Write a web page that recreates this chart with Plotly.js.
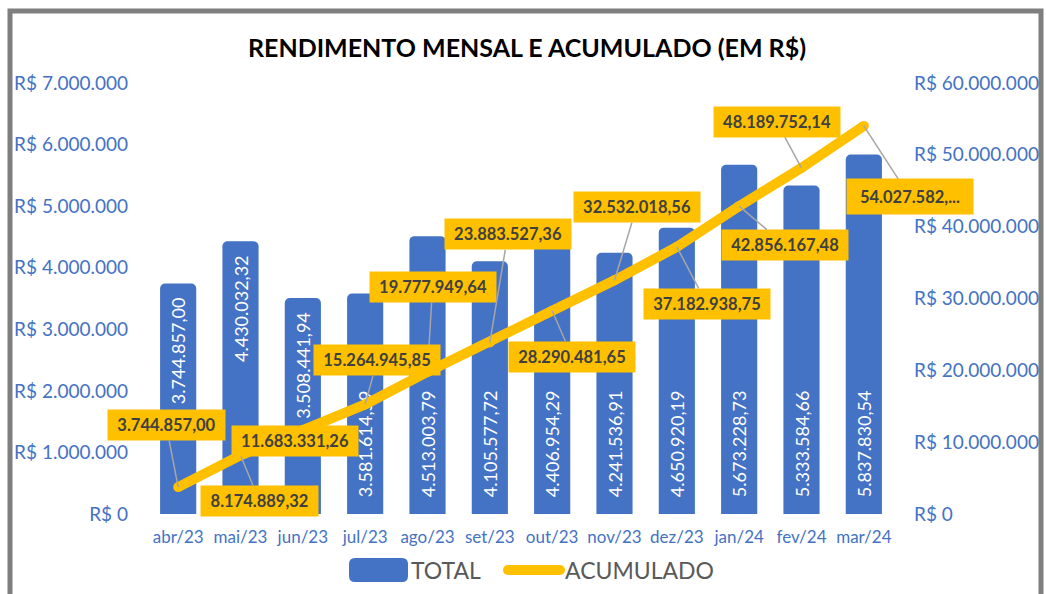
<!DOCTYPE html>
<html>
<head>
<meta charset="utf-8">
<script src="https://cdn.plot.ly/plotly-3.0.1.min.js"></script>
<style>html,body{margin:0;padding:0;background:#fff;}#chart{width:1046px;height:594px;}</style>
</head>
<body>
<div id="chart"></div>
<script>
// ---- data ----
const months = ['abr/23','mai/23','jun/23','jul/23','ago/23','set/23','out/23','nov/23','dez/23','jan/24','fev/24','mar/24'];
const totalMensal = [3744857.00, 4430032.32, 3508441.94, 3581614.59, 4513003.79, 4105577.72, 4406954.29, 4241536.91, 4650920.19, 5673228.73, 5333584.66, 5837830.54];
const acumulado = [3744857.00, 8174889.32, 11683331.26, 15264945.85, 19777949.64, 23883527.36, 28290481.65, 32532018.56, 37182938.75, 42856167.48, 48189752.14, 54027582.68];
const seriesNames = ['TOTAL', 'ACUMULADO'];
const titleText = 'RENDIMENTO MENSAL E ACUMULADO (EM R$)';

// ---- label placement (style only) ----
const labelOffsets = [[-12,-62],[19,46],[-8,11],[12,-44],[5,-85],[18,-108],[20,46],[22,-73],[30,57],[46,39],[-25,-46],[46,71]];
const barLabelAtTop = [true, true, true, false, false, false, false, false, false, false, false, false];

const fmtBR = v => v.toLocaleString('pt-BR', {minimumFractionDigits:2, maximumFractionDigits:2});
const NB = '\u00a0';

const BLUE = '#4472C4', GOLD = '#FFC000', FONT = 'Lato, "Open Sans", sans-serif';
const L = 147, R = 151, T = 83, B = 80, W = 1046 - L - R, H = 594 - T - B;
const px = x => (x - L) / W, py = y => (594 - B - y) / H;

const barTextFont = {color: '#ffffff', size: 18, family: FONT};
const traces = [
  {
    type: 'bar', name: seriesNames[0], x: months, y: totalMensal,
    marker: {color: BLUE},
    text: totalMensal.map((v, i) => barLabelAtTop[i] ? '' : NB + NB + NB + fmtBR(v)),
    textposition: 'inside', textangle: -90, insidetextanchor: 'start', constraintext: 'none',
    insidetextfont: barTextFont, hoverinfo: 'skip', showlegend: false
  },
  {
    type: 'bar', name: seriesNames[0] + ' (rótulos)', x: months, y: totalMensal,
    marker: {color: 'rgba(0,0,0,0)'},
    text: totalMensal.map((v, i) => barLabelAtTop[i] ? fmtBR(v) + NB + NB : ''),
    textposition: 'inside', textangle: -90, insidetextanchor: 'end', constraintext: 'none',
    insidetextfont: barTextFont, hoverinfo: 'skip', showlegend: false
  },
  {
    type: 'scatter', mode: 'lines+markers', name: seriesNames[1], x: months, y: acumulado, yaxis: 'y2',
    line: {color: GOLD, width: 10}, marker: {color: GOLD, size: 10},
    hoverinfo: 'skip', showlegend: false
  }
];

// order so that later labels cover earlier leader lines as in reference
const order = [0,1,2,4,3,5,6,7,8,9,10,11];
const annotations = order.map(i => {
  let t = fmtBR(acumulado[i]);
  const last = i === acumulado.length - 1;
  if (last) t = t.slice(0, -2) + '...';
  return {
    x: months[i], y: acumulado[i], xref: 'x', yref: 'y2',
    text: '<b>' + t + '</b>', showarrow: true, arrowhead: 0, arrowwidth: 1.5, arrowcolor: '#A6A6A6',
    standoff: 0, startstandoff: 0,
    ax: labelOffsets[i][0], ay: labelOffsets[i][1],
    bgcolor: GOLD, borderpad: 2,
    width: t.length > 12 ? 122 : 113, height: last ? 31 : 26,
    font: {family: FONT, size: 16.5, color: '#404040'}
  };
});

// custom legend
annotations.push(
  {xref:'paper', yref:'paper', x: px(409), y: py(570), xanchor:'left', yanchor:'middle', showarrow:false,
   text: seriesNames[0], font:{family: FONT, size: 23, color:'#595959'}},
  {xref:'paper', yref:'paper', x: px(563), y: py(570), xanchor:'left', yanchor:'middle', showarrow:false,
   text: seriesNames[1], font:{family: FONT, size: 23, color:'#595959'}}
);

function roundRect(x0, y0, x1, y1, r) {
  const X = v => px(v), Y = v => py(v);
  return `M${X(x0+r)},${Y(y0)} L${X(x1-r)},${Y(y0)} Q${X(x1)},${Y(y0)} ${X(x1)},${Y(y0+r)} ` +
         `L${X(x1)},${Y(y1-r)} Q${X(x1)},${Y(y1)} ${X(x1-r)},${Y(y1)} L${X(x0+r)},${Y(y1)} ` +
         `Q${X(x0)},${Y(y1)} ${X(x0)},${Y(y1-r)} L${X(x0)},${Y(y0+r)} Q${X(x0)},${Y(y0)} ${X(x0+r)},${Y(y0)} Z`;
}

const shapes = [
  {type:'rect', xref:'paper', yref:'paper', x0: px(10), x1: px(1041), y0: py(11), y1: py(620),
   line:{color:'#7F7F7F', width:5}, fillcolor:'rgba(0,0,0,0)', layer:'below'},
  {type:'path', xref:'paper', yref:'paper', path: roundRect(349, 558, 408, 582, 6),
   fillcolor: BLUE, line:{width:0}},
  {type:'line', xref:'paper', yref:'paper', x0: px(508), x1: px(560), y0: py(570), y1: py(570),
   line:{color: GOLD, width: 10}},
  {type:'circle', xref:'paper', yref:'paper', x0: px(503), x1: px(513), y0: py(575), y1: py(565),
   fillcolor: GOLD, line:{width:0}},
  {type:'circle', xref:'paper', yref:'paper', x0: px(555), x1: px(565), y0: py(575), y1: py(565),
   fillcolor: GOLD, line:{width:0}}
];

const layout = {
  width: 1046, height: 594,
  margin: {l: L, r: R, t: T, b: B},
  paper_bgcolor: '#ffffff', plot_bgcolor: '#ffffff',
  separators: ',.',
  title: {text: '<b>' + titleText + '</b>', x: 527/1046, xanchor: 'center', y: 1 - 48/594, yanchor: 'middle',
          font: {family: FONT, size: 25, color: '#000000'}},
  barmode: 'overlay', bargap: 0.42, barcornerradius: 5,
  showlegend: false,
  xaxis: {type: 'category', range: [-0.5, 11.5], autorange: false, fixedrange: true,
          showgrid: false, zeroline: false, showline: false, ticks: '', tickangle: 0,
          tickfont: {family: FONT, size: 17, color: BLUE}, ticklabelstandoff: 11},
  yaxis: {range: [0, 7000000], autorange: false, dtick: 1000000, tickprefix: 'R$ ', tickformat: ',.0f',
          showgrid: false, zeroline: false, showline: false, ticks: '',
          tickfont: {family: FONT, size: 19, color: BLUE}, ticklabelstandoff: 18},
  yaxis2: {range: [0, 60000000], autorange: false, dtick: 10000000, tickprefix: 'R$ ', tickformat: ',.0f',
           overlaying: 'y', side: 'right', showgrid: false, zeroline: false, showline: false, ticks: '',
           tickfont: {family: FONT, size: 19, color: BLUE}, ticklabelstandoff: 18},
  annotations: annotations,
  shapes: shapes
};

Plotly.newPlot('chart', traces, layout, {staticPlot: true, displayModeBar: false});
</script>
</body>
</html>
